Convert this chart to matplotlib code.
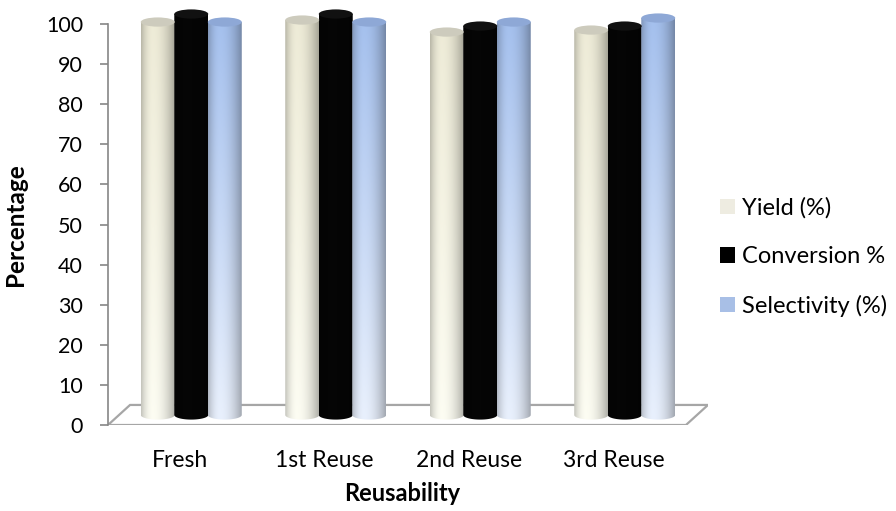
import matplotlib.pyplot as plt
import numpy as np
from matplotlib.patches import Polygon, Ellipse, Patch, PathPatch
from matplotlib.path import Path

plt.rcParams['font.family'] = ['Lato', 'DejaVu Sans']

categories = ['Fresh', '1st Reuse', '2nd Reuse', '3rd Reuse']
series_names = ['Yield (%)', 'Conversion %', 'Selectivity (%)']
yield_pct = [98, 98.5, 95.5, 96]
conversion_pct = [100, 100, 97, 97]
selectivity_pct = [98, 98, 98, 99]
y_ticks = list(range(0, 101, 10))

# pseudo 3D floor depth (data units) and cylinder geometry
DEPTH_X = 0.1525
DEPTH_Y = 5.0
BAR_W = 0.235
CAP_H = 2.3

# colour ramps per series: top colour, bottom colour, cap colour, legend colour
styles = [
    dict(top=(0.93, 0.92, 0.84), bottom=(0.99, 0.99, 0.95), cap='#cdcbbd', legend='#eeece1'),
    dict(top=(0.02, 0.02, 0.02), bottom=(0.02, 0.02, 0.02), cap='#111111', legend='#000000'),
    dict(top=(0.64, 0.75, 0.93), bottom=(0.91, 0.94, 0.99), cap='#8ea8d6', legend='#a8bfe6'),
]


def shade_profile(u):
    # cylinder lit from the front-left: darker towards both edges
    left = 1 - 0.22 * np.clip((0.35 - u) / 0.35, 0, 1) ** 2
    right = 1 - 0.30 * np.clip((u - 0.35) / 0.65, 0, 1) ** 2
    return np.minimum(left, right)


def draw_cylinder(ax, xc, value, style):
    base = DEPTH_Y / 2
    top = base + value
    x0, x1 = xc - BAR_W / 2, xc + BAR_W / 2
    ny, nx = 200, 60
    yy = np.linspace(base - CAP_H / 2, top, ny)
    t = np.clip((yy - base) / 100.0, 0, 1)[:, None, None]
    col = np.array(style['bottom'])[None, None, :] * (1 - t) + np.array(style['top'])[None, None, :] * t
    u = np.linspace(0, 1, nx)
    img = np.clip(col * shade_profile(u)[None, :, None], 0, 1)

    # body outline: rectangle with rounded (half ellipse) bottom
    theta = np.linspace(np.pi, 2 * np.pi, 40)
    bx = xc + BAR_W / 2 * np.cos(theta)
    by = base + CAP_H / 2 * np.sin(theta)
    verts = list(zip(bx, by)) + [(x1, top), (x0, top), (bx[0], by[0])]
    clip = PathPatch(Path(verts), transform=ax.transData, facecolor='none', edgecolor='none')
    ax.add_patch(clip)
    im = ax.imshow(img, extent=[x0, x1, base - CAP_H / 2, top], origin='lower',
                   aspect='auto', interpolation='bilinear', zorder=3)
    im.set_clip_path(clip)
    ax.add_patch(Ellipse((xc, top), BAR_W, CAP_H, facecolor=style['cap'],
                         edgecolor='none', zorder=4))


fig = plt.figure(figsize=(8.96, 5.11), dpi=100)
ax = fig.add_axes([108 / 896, 86 / 511, 600 / 896, 417 / 511])

# floor
floor = Polygon([(-0.5, 0), (3.5, 0), (3.5 + DEPTH_X, DEPTH_Y), (-0.5 + DEPTH_X, DEPTH_Y)],
                closed=True, facecolor='white', edgecolor='#a6a6a6', linewidth=1.6, zorder=1)
ax.add_patch(floor)

series = [yield_pct, conversion_pct, selectivity_pct]
for i in range(len(categories)):
    gc = i + DEPTH_X / 2
    for j, vals in enumerate(series):
        draw_cylinder(ax, gc + (j - 1) * 0.232, vals[i], styles[j])

ax.set_xlim(-0.5, 3.5 + DEPTH_X)
ax.set_ylim(0, 104)

for s in ['top', 'right', 'bottom']:
    ax.spines[s].set_visible(False)
ax.spines['left'].set_bounds(0, 100)
ax.spines['left'].set_color('#868686')
ax.spines['left'].set_linewidth(1.2)

ax.set_yticks(y_ticks)
ax.tick_params(axis='y', direction='out', length=6, width=1.2, color='#868686',
               labelsize=15.5, pad=12)
ax.set_xticks(range(len(categories)))
ax.set_xticklabels(categories)
ax.tick_params(axis='x', length=0, labelsize=16.5, pad=18)

ax.set_ylabel('Percentage', fontsize=17.5, fontweight='bold')
ax.yaxis.set_label_coords(-0.135, 0.48)
ax.set_xlabel('Reusability', fontsize=17, fontweight='bold')
ax.xaxis.set_label_coords(0.49, -0.137)

handles = [Patch(facecolor=st['legend'], edgecolor='none') for st in styles]
fig.legend(handles, series_names, loc='center left', bbox_to_anchor=(720 / 896, 0.497),
           frameon=False, fontsize=17, handlelength=0.64, handleheight=0.64,
           handletextpad=0.3, labelspacing=1.16, borderpad=0, borderaxespad=0)

fig.savefig('out.png', dpi=100)
